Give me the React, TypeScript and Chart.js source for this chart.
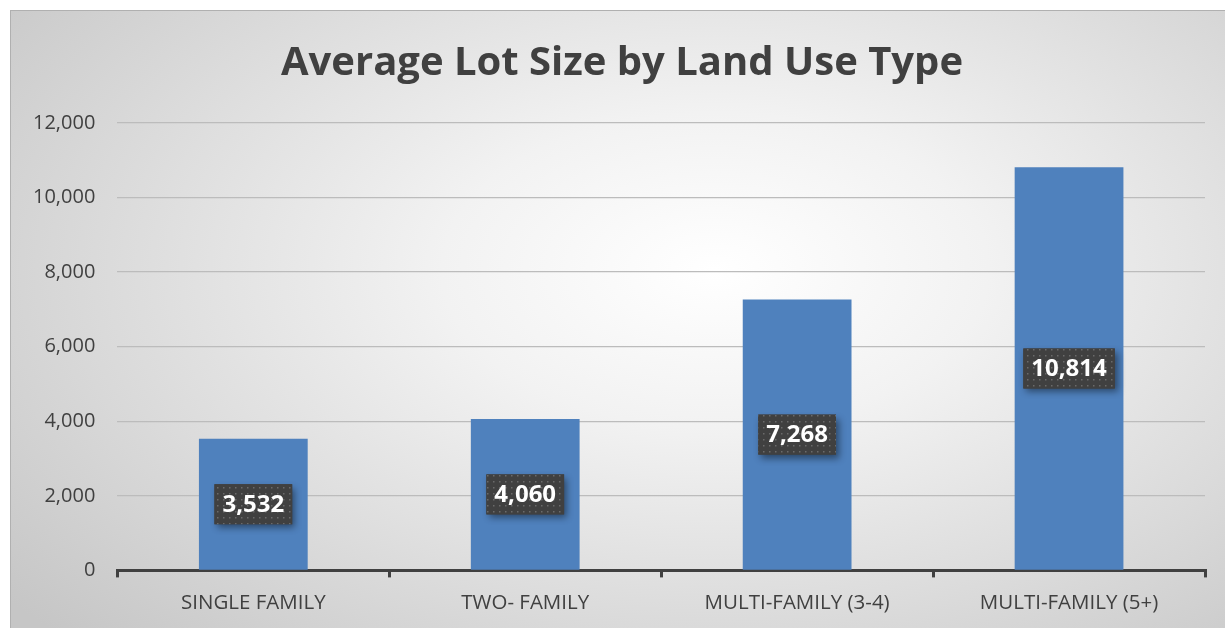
import React, { useEffect, useRef } from "react";
import { Chart, registerables } from "chart.js";

Chart.register(...registerables);

const categories = ["SINGLE FAMILY", "TWO- FAMILY", "MULTI-FAMILY (3-4)", "MULTI-FAMILY (5+)"];
const lotSizes = [3532, 4060, 7268, 10814];
const yTicks = [0, 2000, 4000, 6000, 8000, 10000, 12000];
const titleText = "Average Lot Size by Land Use Type";

const FONT = "'Open Sans', 'Noto Sans', sans-serif";

function makePattern(ctx: CanvasRenderingContext2D) {
  const c = document.createElement("canvas");
  c.width = 6;
  c.height = 6;
  const p = c.getContext("2d")!;
  p.fillStyle = "#404040";
  p.fillRect(0, 0, 6, 6);
  p.fillStyle = "#6a6a6a";
  p.fillRect(2, 2, 1.5, 1.5);
  return ctx.createPattern(c, "repeat");
}

const titlePlugin = {
  id: "centeredTitle",
  afterDraw(chart: any) {
    const ctx: CanvasRenderingContext2D = chart.ctx;
    ctx.save();
    ctx.font = `bold 40px ${FONT}`;
    ctx.fillStyle = "#404040";
    ctx.textAlign = "center";
    ctx.textBaseline = "middle";
    ctx.fillText(titleText, chart.width / 2 + 4, 53);
    ctx.restore();
  },
};

const labelPlugin = {
  id: "boxLabels",
  afterDatasetsDraw(chart: any) {
    const ctx: CanvasRenderingContext2D = chart.ctx;
    const meta = chart.getDatasetMeta(0);
    const pattern = makePattern(ctx);
    ctx.save();
    ctx.font = `bold 24px ${FONT}`;
    meta.data.forEach((bar: any, i: number) => {
      const v = lotSizes[i];
      const text = v.toLocaleString("en-US");
      const cx = bar.x;
      const cy = (bar.y + bar.base) / 2;
      const tw = ctx.measureText(text).width;
      const w = tw + 16;
      const h = 40;
      ctx.save();
      ctx.shadowColor = "rgba(0,0,0,0.45)";
      ctx.shadowBlur = 7;
      ctx.shadowOffsetX = 3;
      ctx.shadowOffsetY = 4;
      ctx.fillStyle = "#404040";
      ctx.fillRect(cx - w / 2, cy - h / 2, w, h);
      ctx.restore();
      if (pattern) {
        ctx.fillStyle = pattern;
        ctx.fillRect(cx - w / 2, cy - h / 2, w, h);
      }
      ctx.fillStyle = "#ffffff";
      ctx.textAlign = "center";
      ctx.textBaseline = "middle";
      ctx.fillText(text, cx, cy + 1);
    });
    ctx.restore();
  },
};

export default function App() {
  const ref = useRef<HTMLCanvasElement>(null);
  useEffect(() => {
    const chart = new Chart(ref.current!, {
      type: "bar",
      data: {
        labels: categories,
        datasets: [
          {
            data: lotSizes,
            backgroundColor: "#4f81bd",
            barPercentage: 0.4,
            categoryPercentage: 1,
          },
        ],
      },
      options: {
        animation: false,
        responsive: false,
        layout: { padding: { left: 0, right: 20, top: 112, bottom: 0 } },
        plugins: {
          legend: { display: false },
          tooltip: { enabled: false },
          title: { display: false },
        },
        scales: {
          x: {
            grid: {
              display: true,
              drawOnChartArea: false,
              drawTicks: true,
              tickLength: 7,
              color: "#404040",
              lineWidth: 3,
              offset: true,
            },
            border: { display: true, color: "#404040", width: 3 },
            ticks: {
              color: "#404040",
              font: { family: FONT, size: 20.5 },
              padding: 13,
            },
          },
          y: {
            min: 0,
            max: 12000,
            afterBuildTicks(axis: any) {
              axis.ticks = yTicks.map((v) => ({ value: v }));
            },
            grid: {
              color: "#bcbcbc",
              lineWidth: 1.3,
              drawTicks: false,
            },
            border: { display: false },
            ticks: {
              color: "#404040",
              font: { family: FONT, size: 20 },
              padding: 22,
              callback: (v: any) => Number(v).toLocaleString("en-US"),
            },
          },
        },
      },
      plugins: [labelPlugin, titlePlugin],
    });
    return () => chart.destroy();
  }, []);

  return (
    <div
      style={{
        position: "fixed",
        left: 10,
        top: 10,
        width: 1215,
        height: 618,
        boxSizing: "border-box",
        borderLeft: "1px solid #b0b0b0",
        borderTop: "1px solid #b0b0b0",
        background:
          "radial-gradient(ellipse 75% 85% at 58% 42%, #ffffff 0%, #f2f2f2 30%, #dcdcdc 65%, #c6c6c6 100%)",
      }}
    >
      <canvas ref={ref} width={1214} height={617} style={{ display: "block" }} />
    </div>
  );
}
